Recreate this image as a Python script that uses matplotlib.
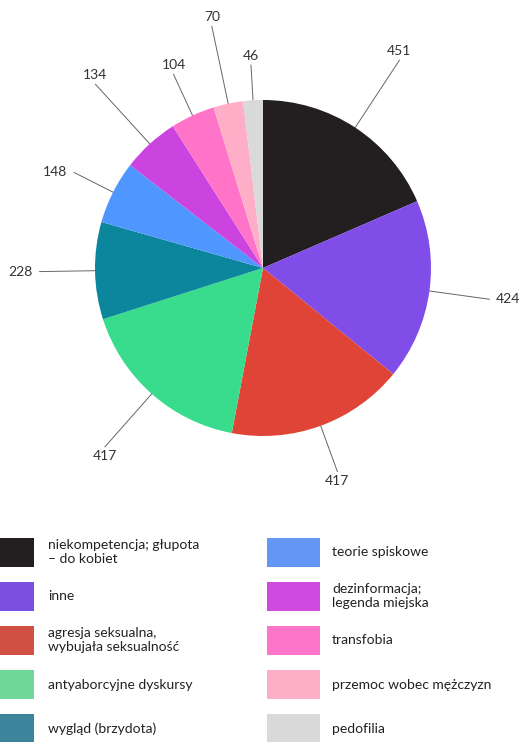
import numpy as np
import matplotlib
matplotlib.use("Agg")
import matplotlib.pyplot as plt
from matplotlib.patches import Rectangle

plt.rcParams['font.family'] = ['Lato', 'DejaVu Sans']

# dane
categories = [
    "niekompetencja; głupota\n– do kobiet",
    "inne",
    "agresja seksualna,\nwybujała seksualność",
    "antyaborcyjne dyskursy",
    "wygląd (brzydota)",
    "teorie spiskowe",
    "dezinformacja;\nlegenda miejska",
    "transfobia",
    "przemoc wobec mężczyzn",
    "pedofilia",
]
values = [451, 424, 417, 417, 228, 148, 134, 104, 70, 46]

pie_colors = ["#231f20", "#804de8", "#e04437", "#38dc8c", "#0c869c",
              "#5096ff", "#cc44e0", "#ff73c8", "#ffaec8", "#d9d9d9"]
legend_colors = ["#231f20", "#7b4fe0", "#d05043", "#6dd898", "#3b849c",
                 "#6496f5", "#cf4be0", "#fc75c8", "#fbb0c6", "#d9d9d9"]

# dlugosc linii etykiet (w promieniach) - jak w oryginale
label_dist = [1.48, 1.36, 1.29, 1.42, 1.33, 1.26, 1.48, 1.27, 1.47, 1.21]

W, H = 524, 742
R = 168.0          # promien w px
cx, cy = 263, 268  # srodek w px

fig = plt.figure(figsize=(W / 100, H / 100), dpi=100)
ax = fig.add_axes([0, 0, 1, 1])

wedges, _ = ax.pie(values, colors=pie_colors, startangle=90, counterclock=False,
                   radius=1.0, wedgeprops=dict(linewidth=0))
ax.set_xlim(-cx / R, (W - cx) / R)
ax.set_ylim(-(H - cy) / R, cy / R)
ax.axis("off")

for w, v, d in zip(wedges, values, label_dist):
    ang = np.deg2rad((w.theta1 + w.theta2) / 2)
    c, s = np.cos(ang), np.sin(ang)
    ax.plot([c * 1.0, c * d], [s * 1.0, s * d], color="#666666", lw=0.7, zorder=0)
    tx, ty = c * d, s * d
    if abs(s) > 0.7:
        ha, va = "center", ("bottom" if s > 0 else "top")
        ty += 0.02 * np.sign(s)
    else:
        ha, va = ("left" if c > 0 else "right"), "center"
        tx += 0.04 * np.sign(c)
    ax.text(tx, ty, str(v), ha=ha, va=va, fontsize=10, color="#333333")

# legenda
rows = 5
for i, (lab, col) in enumerate(zip(categories, legend_colors)):
    colx = i // rows
    r = i % rows
    yc = 552 + r * 44.2
    sq_x = -19 if colx == 0 else 267
    tx = 48 if colx == 0 else 332
    fig.patches.append(Rectangle((sq_x / W, 1 - (yc + 14.5) / H), 53 / W, 29 / H,
                                 transform=fig.transFigure, facecolor=col,
                                 edgecolor="none"))
    fig.text(tx / W, 1 - yc / H, lab, ha="left", va="center", fontsize=10,
             color="#222222", linespacing=1.2)

fig.savefig("out.png", dpi=100)
